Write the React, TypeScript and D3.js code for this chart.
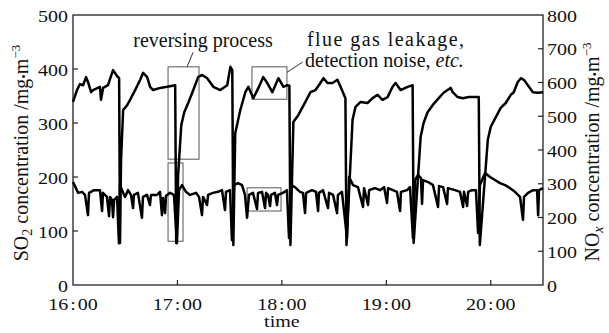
import React from 'react';
import * as d3 from 'd3';

const W = 609;
const H = 333;

// time in minutes after 16:00
const so2Time = [0, 2.3, 4.0, 5.8, 7.5, 8.6, 10.4, 11.5, 15.5, 16.1, 17.3, 20.1, 23.0, 25.3, 26.5, 27.0, 27.6, 28.8, 31.1, 32.8, 35.7, 38.6, 40.3, 42.6, 44.3, 46.0, 50.1, 54.1, 58.7, 59.3, 60.4, 62.2, 63.9, 66.2, 69.1, 71.9, 74.2, 77.1, 80.6, 84.6, 88.6, 90.4, 91.5, 92.1, 93.2, 96.1, 99.0, 100.7, 103.6, 106.5, 109.3, 111.6, 114.5, 118.0, 120.9, 123.2, 124.3, 124.9, 126.6, 129.5, 133.5, 136.4, 139.3, 142.1, 143.9, 146.2, 149.1, 151.9, 153.7, 156.5, 157.1, 160.6, 162.3, 165.2, 169.2, 172.1, 175.0, 177.8, 180.7, 183.6, 185.3, 188.2, 192.2, 195.1, 195.7, 199.7, 201.4, 203.7, 206.6, 210.1, 212.9, 215.2, 217.0, 218.1, 221.0, 223.9, 227.3, 231.4, 233.1, 233.7, 238.3, 240.0, 242.9, 245.7, 248.6, 251.5, 253.2, 255.5, 257.3, 259.0, 261.3, 264.2, 267.0, 270];
const so2Values = [339, 361, 372, 370, 385, 376, 357, 361, 367, 343, 365, 370, 398, 387, 383, 78, 231, 324, 333, 343, 361, 380, 393, 385, 367, 361, 365, 367, 370, 78, 204, 296, 320, 337, 361, 385, 389, 383, 367, 361, 370, 404, 398, 74, 281, 324, 357, 367, 346, 365, 385, 374, 357, 383, 367, 370, 369, 74, 302, 315, 339, 357, 361, 374, 383, 374, 374, 380, 367, 346, 74, 306, 330, 339, 337, 346, 352, 343, 348, 367, 374, 361, 367, 370, 78, 274, 300, 320, 333, 346, 356, 361, 365, 357, 348, 346, 348, 348, 348, 74, 269, 293, 311, 328, 337, 352, 357, 376, 383, 380, 370, 357, 356, 357];

const noxTime = [0, 1.7, 2.9, 5.2, 6.9, 8.6, 9.2, 12.1, 15.5, 16.7, 17.2, 19.5, 20.7, 21.3, 22.4, 23.0, 23.6, 25.3, 26.4, 27.0, 28.2, 29.9, 31.6, 33.3, 34.5, 35.0, 37.3, 39.6, 40.2, 42.5, 44.2, 44.8, 48.3, 50.0, 51.1, 51.7, 52.9, 53.4, 55.7, 58.0, 59.7, 60.9, 62.6, 64.9, 67.2, 70.7, 72.4, 74.1, 74.7, 77.0, 77.6, 80.4, 83.3, 85.6, 87.3, 87.9, 90.2, 91.3, 92.5, 94.8, 97.1, 98.8, 100.0, 101.1, 103.4, 105.7, 106.3, 108.6, 110.3, 110.9, 112.0, 113.2, 113.8, 116.0, 117.2, 117.8, 120.6, 122.9, 124.1, 125.2, 127.5, 130.4, 132.1, 133.3, 133.9, 137.3, 139.6, 140.8, 141.3, 143.6, 146.5, 147.1, 149.4, 151.7, 152.2, 154.5, 157.4, 158.6, 160.9, 163.7, 166.6, 167.2, 169.5, 170.1, 173.5, 176.4, 178.7, 180.4, 181.0, 183.8, 186.1, 187.9, 188.4, 191.9, 193.6, 195.3, 196.5, 198.2, 199.9, 200.5, 201.1, 204.0, 206.8, 209.7, 210.3, 212.6, 214.9, 215.4, 219.5, 222.3, 224.1, 224.6, 226.4, 227.0, 229.2, 231.5, 232.7, 233.8, 236.7, 239.6, 242.4, 245.3, 248.2, 251.1, 253.9, 256.8, 258.5, 259.1, 261.4, 264.3, 266.6, 267.2, 267.7, 270];
const noxValues = [305, 287, 273, 276, 267, 207, 273, 281, 281, 219, 273, 261, 204, 261, 252, 201, 252, 261, 124, 296, 281, 261, 281, 267, 228, 267, 273, 199, 261, 267, 237, 267, 267, 276, 207, 258, 213, 264, 273, 267, 124, 281, 296, 276, 267, 273, 261, 207, 261, 237, 267, 273, 276, 281, 222, 276, 281, 133, 296, 302, 296, 267, 199, 267, 273, 225, 273, 276, 228, 273, 267, 234, 267, 273, 237, 267, 273, 281, 139, 296, 290, 276, 273, 213, 273, 281, 276, 219, 273, 281, 228, 273, 267, 213, 267, 276, 139, 320, 296, 290, 231, 287, 237, 281, 287, 281, 290, 243, 287, 281, 276, 219, 276, 281, 290, 139, 311, 326, 317, 240, 311, 305, 296, 231, 293, 290, 240, 287, 281, 276, 231, 276, 234, 276, 281, 281, 154, 296, 332, 320, 311, 302, 296, 287, 276, 261, 193, 261, 273, 281, 281, 207, 281, 287];

const so2Ticks = [0, 100, 200, 300, 400, 500];
const noxTicks = [0, 100, 200, 300, 400, 500, 600, 700, 800];
const timeTicks = [0, 60, 120, 180, 240];
const timeHours = ['16', '17', '18', '19', '20'];

// annotation boxes: [t0, t1, v0, v1] in minutes / left-axis units
const boxes = [
  [54.6, 72.4, 233, 404],
  [54.6, 63.2, 81, 226],
  [102.8, 122.9, 344, 404],
  [100.0, 119.5, 137, 180],
];
const leaders = [
  [65.5, 404, 69.0, 431],
  [123.0, 394, 132.0, 413],
];

const TS: React.CSSProperties = { fontFamily: '"Liberation Serif"' };
const SX = 1.25;

export default function App() {
  const x = d3.scaleLinear().domain([0, 270]).range([73, 543]);
  const yL = d3.scaleLinear().domain([0, 500]).range([285, 15]);
  const yR = d3.scaleLinear().domain([0, 800]).range([285, 15]);

  const so2Line = d3.line<number>().x((_, i) => x(so2Time[i])).y((d) => yL(d));
  const noxLine = d3.line<number>().x((_, i) => x(noxTime[i])).y((d) => yR(d));

  const axisColor = '#222';
  const [x0, x1] = x.range();
  const [yb, yt] = yL.range();

  return (
    <svg width={W} height={H} style={{ position: 'absolute', left: 0, top: 0, background: '#fff' }}>
      <rect x={0} y={0} width={W} height={H} fill="#fff" />
      {/* frame */}
      <rect x={x0} y={yt} width={x1 - x0} height={yb - yt} fill="none" stroke={axisColor} strokeWidth={1.3} />
      {/* left ticks */}
      {so2Ticks.map((t) => (
        <g key={'l' + t}>
          {t > 0 && t < 500 && <line x1={x0} x2={x0 + 5} y1={yL(t)} y2={yL(t)} stroke={axisColor} strokeWidth={1.2} />}
          <text style={TS} transform={`translate(${x0 - 5},${yL(t) + 7.4}) scale(${SX},1)`} textAnchor="end" fontSize={16} fill="#111">{t}</text>
        </g>
      ))}
      {/* right ticks */}
      {noxTicks.map((t) => (
        <g key={'r' + t}>
          {t > 0 && t < 800 && <line x1={x1 - 5} x2={x1} y1={yR(t)} y2={yR(t)} stroke={axisColor} strokeWidth={1.2} />}
          <text style={TS} transform={`translate(${x1 + 4},${yR(t) + 6.6}) scale(${SX},1)`} textAnchor="start" fontSize={16} fill="#111">{t}</text>
        </g>
      ))}
      {/* time ticks */}
      {timeTicks.map((t, i) => (
        <g key={'t' + t}>
          {t > 0 && <line x1={x(t)} x2={x(t)} y1={yb} y2={yb - 5} stroke={axisColor} strokeWidth={1.2} />}
          <text style={TS} transform={`translate(${x(t)},${yb + 25}) scale(${SX},1)`} textAnchor="middle" fontSize={16} fill="#111">
            {timeHours[i]}<tspan dx={1.5}>:</tspan><tspan dx={1.5}>00</tspan>
          </text>
        </g>
      ))}
      <text style={TS} transform={`translate(${x(120)},${327}) scale(${SX},1)`} textAnchor="middle" fontSize={16} fill="#111">time</text>

      {/* axis titles */}
      <text style={TS} transform={`translate(28,153) rotate(-90)`} textAnchor="middle" fontSize={20} fill="#111">
        SO<tspan fontSize={14} dy={4}>2</tspan><tspan dy={-4}> concentration /mg</tspan><tspan fontSize={13}>•</tspan>m<tspan fontSize={13} dy={-8}>−3</tspan>
      </text>
      <text style={TS} transform={`translate(599,152) rotate(-90)`} textAnchor="middle" fontSize={20} fill="#111">
        NO<tspan fontSize={14} dy={4} fontStyle="italic">x</tspan><tspan dy={-4}> concentration /mg</tspan><tspan fontSize={13}>•</tspan>m<tspan fontSize={13} dy={-8}>−3</tspan>
      </text>

      {/* annotation boxes */}
      {boxes.map((b, i) => (
        <rect key={'b' + i} x={x(b[0])} y={yL(b[3])} width={x(b[1]) - x(b[0])} height={yL(b[2]) - yL(b[3])} fill="none" stroke="#555" strokeWidth={1} />
      ))}
      {leaders.map((l, i) => (
        <line key={'ld' + i} x1={x(l[0])} y1={yL(l[1])} x2={x(l[2])} y2={yL(l[3])} stroke="#333" strokeWidth={1} />
      ))}

      {/* data lines */}
      <path d={noxLine(noxValues) || ''} fill="none" stroke="#000" strokeWidth={2.5} strokeLinejoin="round" />
      <path d={so2Line(so2Values) || ''} fill="none" stroke="#000" strokeWidth={2.5} strokeLinejoin="round" />

      {/* annotation text */}
      <text style={TS} x={203} y={47} textAnchor="middle" fontSize={20} fill="#111">reversing process</text>
      <text style={TS} x={307} y={46} fontSize={20} fill="#111" textLength={157} lengthAdjust="spacing">flue gas leakage,</text>
      <text style={TS} x={305} y={67} fontSize={20} fill="#111">detection noise, <tspan fontStyle="italic">etc.</tspan></text>
    </svg>
  );
}
